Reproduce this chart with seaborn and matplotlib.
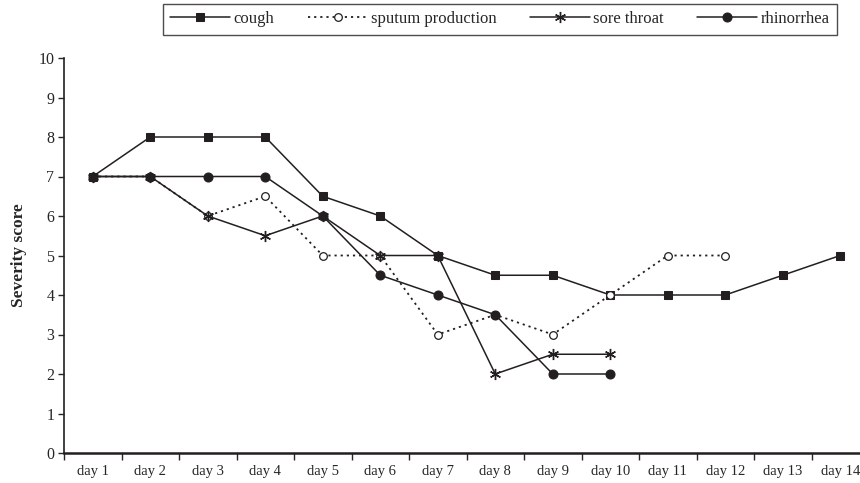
import matplotlib
matplotlib.use("Agg")
import matplotlib.pyplot as plt
import seaborn as sns
import pandas as pd
import numpy as np

days = [f"day {i}" for i in range(1, 15)]
cough = [7, 8, 8, 8, 6.5, 6, 5, 4.5, 4.5, 4, 4, 4, 4.5, 5]
sputum = [7, 7, 6, 6.5, 5, 5, 3, 3.5, 3, 4, 5, 5]
sore_throat = [7, 7, 6, 5.5, 6, 5, 5, 2, 2.5, 2.5]
rhinorrhea = [7, 7, 7, 7, 6, 4.5, 4, 3.5, 2, 2]

sns.set_style("white")
plt.rcParams["font.family"] = ["Liberation Serif", "DejaVu Serif"]

fig = plt.figure(figsize=(8.6, 4.83), dpi=100)
ax = fig.add_axes([64 / 860, 1 - 453 / 483, 805 / 860, 395 / 483])

series = [
    ("cough", cough, dict(marker="s", markersize=6, linestyle="-", linewidth=1.1,
                          markerfacecolor="#231f20", markeredgecolor="#231f20")),
    ("sputum production", sputum, dict(marker="o", markersize=5.5, linestyle=(0, (1.2, 2.2)),
                                       linewidth=1.3, markerfacecolor="white",
                                       markeredgecolor="#231f20", markeredgewidth=0.9)),
    ("sore throat", sore_throat, dict(marker=(6, 2, 0), markersize=8, linestyle="-",
                                      linewidth=1.1, markeredgecolor="#231f20",
                                      markeredgewidth=1.0)),
    ("rhinorrhea", rhinorrhea, dict(marker="o", markersize=6.5, linestyle="-", linewidth=1.1,
                                    markerfacecolor="#231f20", markeredgecolor="#231f20")),
]

for name, vals, style in series:
    df = pd.DataFrame({"day": days[:len(vals)], "score": vals})
    sns.lineplot(data=df, x="day", y="score", sort=False, color="#231f20",
                 label=name, ax=ax, legend=False, **style)

ax.set_xlim(-0.5, 13.5)
ax.set_ylim(0, 10)
ax.set_yticks(range(0, 11))
ax.set_xticks(range(14))
ax.set_xticklabels(days)
ax.set_xticks(np.arange(-0.5, 14, 1), minor=True)
ax.tick_params(axis="x", which="major", length=0, pad=9, labelsize=10.5)
ax.tick_params(axis="x", which="minor", length=5, width=1, direction="out", bottom=True)
ax.tick_params(axis="y", length=4, width=1, direction="out", left=True, labelsize=11.5, pad=3)
ax.set_xlabel("")
ax.set_ylabel("Severity score", fontsize=12.5, fontweight="bold", labelpad=8)

for s in ["top", "right"]:
    ax.spines[s].set_visible(False)
ax.spines["left"].set_color("#231f20")
ax.spines["bottom"].set_color("#231f20")
ax.spines["left"].set_linewidth(1.2)
ax.spines["bottom"].set_linewidth(1.8)
ax.grid(False)

handles, labels = ax.get_legend_handles_labels()
leg = fig.legend(handles, labels, loc="center", bbox_to_anchor=(500 / 860, 1 - 19 / 483),
                 ncol=4, frameon=True, fancybox=False, edgecolor="#231f20",
                 fontsize=12, handlelength=3.6, columnspacing=2.0, handletextpad=0.2,
                 borderpad=0.45)
leg.get_frame().set_linewidth(1.0)

fig.savefig("out.png", dpi=100)
